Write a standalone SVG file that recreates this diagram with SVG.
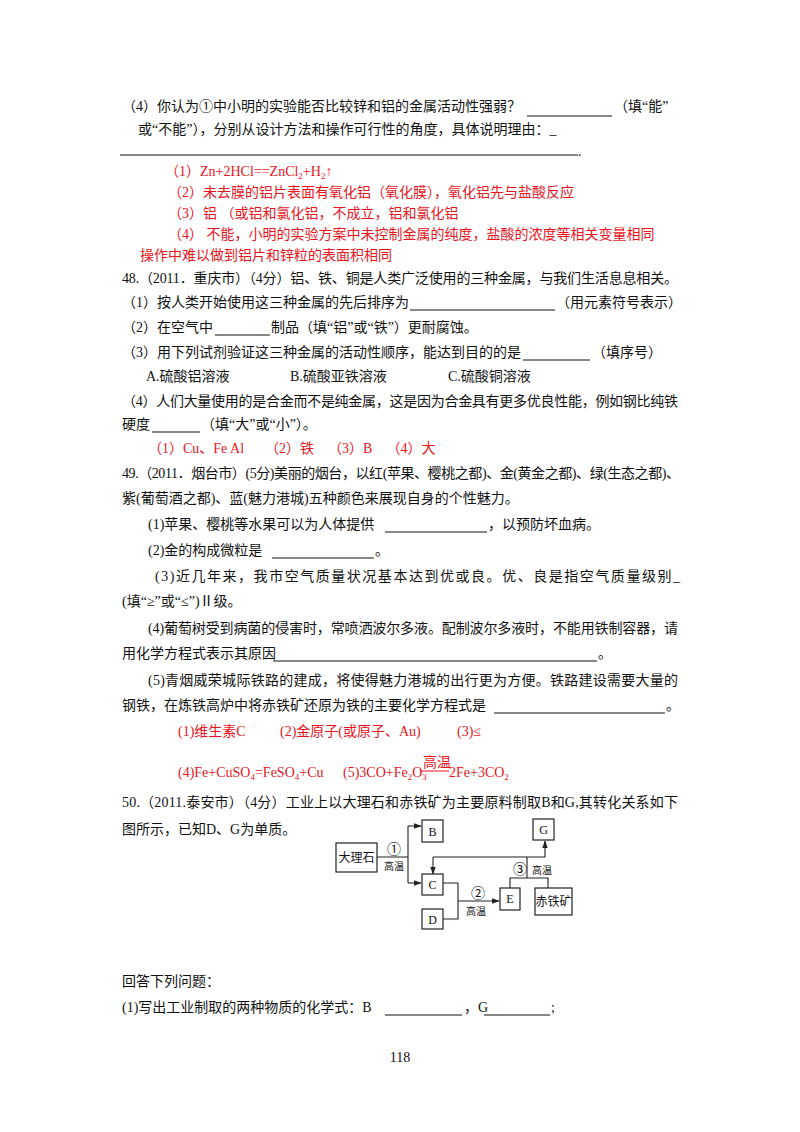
<svg xmlns="http://www.w3.org/2000/svg" width="800" height="1132" viewBox="0 0 800 1132">
<defs>
<style>
text{font-family:"Liberation Serif","Noto Sans CJK SC",serif;font-size:14px;fill:#111}
.r{fill:#e8141c}
.u{stroke:#111;stroke-width:1}
.ru{stroke:#e8141c;stroke-width:1}
.n rect{fill:#fff;stroke:#222;stroke-width:1.2}
.n text{text-anchor:middle;font-size:12px}
.c path{fill:none;stroke:#222;stroke-width:1.1}
.s{font-size:9px}
.l{font-size:10px}
</style>
<marker id="a" viewBox="0 0 10 10" refX="9" refY="5" markerWidth="7" markerHeight="7" orient="auto"><path d="M0,1.5 L10,5 L0,8.5 Z" fill="#222"/></marker>
</defs>
<rect width="800" height="1132" fill="#fff"/>
<text x="122" y="111">（4）你认为①中小明的实验能否比较锌和铝的金属活动性强弱？</text>
<line class="u" x1="527" y1="116" x2="612" y2="116"/>
<text x="614" y="111">（填“能”</text>
<text x="138" y="134">或“不能”），分别从设计方法和操作可行性的角度，具体说明理由：_</text>
<line class="u" x1="120" y1="155" x2="578" y2="155"/>
<text x="578" y="156">.</text>
<text class="r" x="165" y="176">（1）Zn+2HCl==ZnCl<tspan class="s" dy="3">2</tspan><tspan dy="-3">+H</tspan><tspan class="s" dy="3">2</tspan><tspan dy="-3">↑</tspan></text>
<text class="r" x="168" y="197">（2）未去膜的铝片表面有氧化铝（氧化膜），氧化铝先与盐酸反应</text>
<text class="r" x="168" y="218">（3）铝 （或铝和氯化铝，不成立，铝和氯化铝</text>
<text class="r" x="168" y="239">（4） 不能，小明的实验方案中未控制金属的纯度，盐酸的浓度等相关变量相同</text>
<text class="r" x="140" y="260">操作中难以做到铝片和锌粒的表面积相同</text>
<text x="122" y="283" textLength="556">48.（2011．重庆市）（4分）铝、铁、铜是人类广泛使用的三种金属，与我们生活息息相关。</text>
<text x="122" y="307">（1）按人类开始使用这三种金属的先后排序为</text>
<line class="u" x1="410" y1="310" x2="555" y2="310"/>
<text x="556" y="307">（用元素符号表示）</text>
<text x="122" y="332">（2）在空气中</text>
<line class="u" x1="215" y1="335" x2="270" y2="335"/>
<text x="271" y="332">制品（填“铝”或“铁”）更耐腐蚀。</text>
<text x="122" y="357">（3）用下列试剂验证这三种金属的活动性顺序，能达到目的的是</text>
<line class="u" x1="523" y1="360" x2="590" y2="360"/>
<text x="592" y="357">（填序号）</text>
<text x="146" y="381">A.硫酸铝溶液</text>
<text x="290" y="381">B.硫酸亚铁溶液</text>
<text x="448" y="381">C.硫酸铜溶液</text>
<text x="122" y="406" textLength="556">（4）人们大量使用的是合金而不是纯金属，这是因为合金具有更多优良性能，例如钢比纯铁</text>
<text x="122" y="429">硬度</text>
<line class="u" x1="152" y1="432" x2="200" y2="432"/>
<text x="201" y="429">（填“大”或“小”）。</text>
<text class="r" x="148" y="453" xml:space="preserve">（1）Cu、Fe Al      （2）铁    （3）B    （4）大</text>
<text x="122" y="478" textLength="558">49.（2011．烟台市）(5分)美丽的烟台，以红(苹果、樱桃之都)、金(黄金之都)、绿(生态之都)、</text>
<text x="122" y="503">紫(葡萄酒之都)、蓝(魅力港城)五种颜色来展现自身的个性魅力。</text>
<text x="148" y="529">(1)苹果、樱桃等水果可以为人体提供</text>
<line class="u" x1="385" y1="532" x2="487" y2="532"/>
<text x="488" y="529">，以预防坏血病。</text>
<text x="148" y="555">(2)金的构成微粒是</text>
<line class="u" x1="272" y1="558" x2="374" y2="558"/>
<text x="375" y="555">。</text>
<text x="155" y="581" textLength="525">(3)近几年来，我市空气质量状况基本达到优或良。优、良是指空气质量级别_</text>
<text x="122" y="606">(填“≥”或“≤”)Ⅱ级。</text>
<text x="148" y="633" textLength="530">(4)葡萄树受到病菌的侵害时，常喷洒波尔多液。配制波尔多液时，不能用铁制容器，请</text>
<text x="122" y="658">用化学方程式表示其原因</text>
<line class="u" x1="273" y1="661" x2="597" y2="661"/>
<text x="598" y="658">。</text>
<text x="148" y="685" textLength="530">(5)青烟威荣城际铁路的建成，将使得魅力港城的出行更为方便。铁路建设需要大量的</text>
<text x="122" y="710">钢铁，在炼铁高炉中将赤铁矿还原为铁的主要化学方程式是</text>
<line class="u" x1="494" y1="713" x2="665" y2="713"/>
<text x="666" y="710">。</text>
<text class="r" x="178" y="736">(1)维生素C</text>
<text class="r" x="280" y="736">(2)金原子(或原子、Au)</text>
<text class="r" x="457" y="736">(3)≤</text>
<text class="r" x="178" y="777">(4)Fe+CuSO<tspan class="s" dy="3">4</tspan><tspan dy="-3">=FeSO</tspan><tspan class="s" dy="3">4</tspan><tspan dy="-3">+Cu</tspan></text>
<text class="r" x="343" y="777">(5)3CO+Fe<tspan class="s" dy="3">2</tspan><tspan dy="-3">O</tspan><tspan class="s" dy="3">3</tspan></text>
<text class="r" x="423" y="767">高温</text>
<line class="ru" x1="420" y1="771" x2="449" y2="771"/>
<text class="r" x="449" y="777">2Fe+3CO<tspan class="s" dy="3">2</tspan></text>
<text x="122" y="807" textLength="556">50.（2011.泰安市）（4分）工业上以大理石和赤铁矿为主要原料制取B和G,其转化关系如下</text>
<text x="122" y="834">图所示，已知D、G为单质。</text>
<g class="c" id="connectors">
<path d="M377,857 H408 M408,826 V883"/>
<path d="M408,826 H421" marker-end="url(#a)"/>
<path d="M408,883 H421" marker-end="url(#a)"/>
<path d="M433,857 H545 V841" marker-end="url(#a)"/>
<path d="M433,857 V874" marker-end="url(#a)"/>
<path d="M527,857 V878 M510,888 V878 H548 V888"/>
<path d="M443,883 H458 V919 H443"/>
<path d="M458,901 H499" marker-end="url(#a)"/>
</g>
<text x="387" y="854" font-size="11">①</text>
<text x="384" y="870" class="l">高温</text>
<text x="471" y="898" font-size="11">②</text>
<text x="466" y="915" class="l">高温</text>
<text x="513" y="874" font-size="11">③</text>
<text x="532" y="874" class="l">高温</text>
<g class="n" id="n-dalishi"><rect x="336" y="843" width="41" height="29"/><text x="356.5" y="862">大理石</text></g>
<g class="n" id="n-B"><rect x="422" y="820" width="21" height="22"/><text x="432.5" y="836">B</text></g>
<g class="n" id="n-G"><rect x="533" y="819" width="21" height="21"/><text x="543.5" y="834">G</text></g>
<g class="n" id="n-C"><rect x="422" y="874" width="21" height="21"/><text x="432.5" y="889">C</text></g>
<g class="n" id="n-D"><rect x="422" y="909" width="21" height="20"/><text x="432.5" y="924">D</text></g>
<g class="n" id="n-E"><rect x="500" y="888" width="20" height="22"/><text x="510" y="903">E</text></g>
<g class="n" id="n-chitiekuang"><rect x="535" y="888" width="37" height="27"/><text x="553.5" y="906">赤铁矿</text></g>
<text x="122" y="986">回答下列问题：</text>
<text x="122" y="1012">(1)写出工业制取的两种物质的化学式：B</text>
<line class="u" x1="385" y1="1015" x2="462" y2="1015"/>
<text x="464" y="1012">，G</text>
<line class="u" x1="484" y1="1015" x2="550" y2="1015"/>
<text x="551" y="1012">;</text>
<text x="400" y="1062" text-anchor="middle" font-size="12">118</text>
</svg>
